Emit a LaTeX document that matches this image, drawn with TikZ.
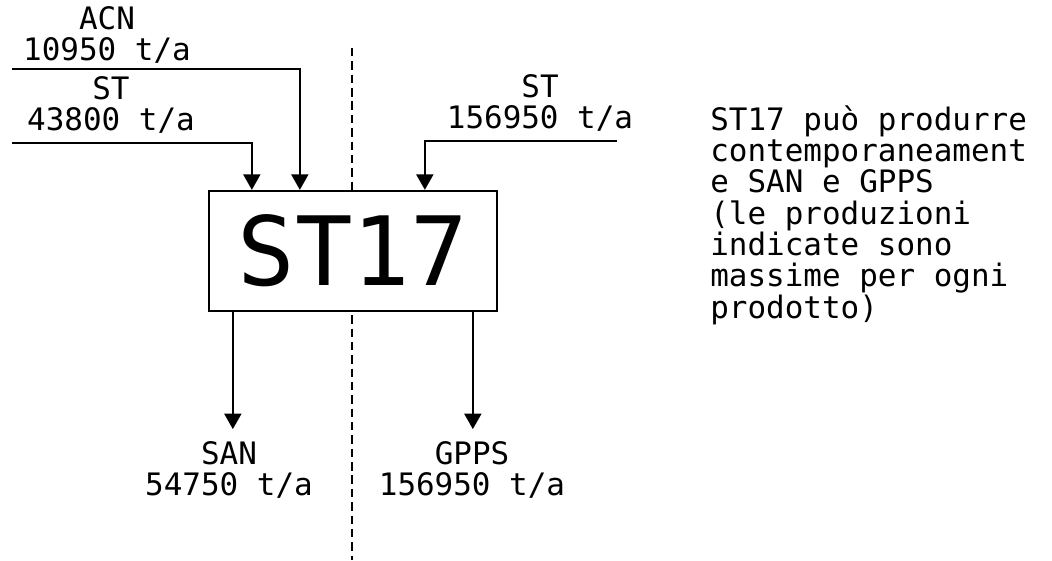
\documentclass[tikz,border=0pt]{standalone}
\usepackage{fontspec}
\setmainfont{DejaVu Sans Mono}
\usetikzlibrary{arrows.meta,calc}

\begin{document}
\begin{tikzpicture}[
    x=0.025cm, y=-0.025cm,
    unitbox/.style={draw, line width=1.6pt, fill=white, minimum width=7.2cm, minimum height=3cm, inner sep=0pt, font=\fontsize{68}{68}\selectfont},
    lbl/.style={align=center, inner sep=0pt, font=\fontsize{22}{21.5}\selectfont},
    note/.style={align=left, inner sep=0pt, anchor=north west, font=\fontsize{22}{22.3}\selectfont},
    flow/.style={-{Triangle[width=12pt, length=11pt]}, line width=1.6pt},
    divider/.style={line width=1.6pt, dash pattern=on 6pt off 3.5pt}
]
\useasboundingbox (0,0) rectangle (1052,560);

% dividing line, behind the unit
\coordinate (divtop) at (352,48);
\coordinate (divbot) at (352,560);
\draw[divider] (divtop) -- (divbot);

\node[unitbox] (st17) at (353,251) {ST17};

% feeds
\node[lbl] (acn) at (107,35) {ACN\\10950 t/a};
\node[lbl] (stleft) at (111,105) {ST\\43800 t/a};
\node[lbl] (stright) at (540,103) {ST\\156950 t/a};

\coordinate (acnsrc) at (12,69);
\coordinate (stlsrc) at (12,143);
\coordinate (strsrc) at (617,141);
\draw[flow] (acnsrc) -| ($(st17.north west)+(92,0)$);
\draw[flow] (stlsrc) -| ($(st17.north west)+(44,0)$);
\draw[flow] (strsrc) -| ($(st17.north west)+(217,0)$);

% products
\coordinate (sanend) at ($(st17.south west)+(25,117)$);
\coordinate (gppsend) at ($(st17.south west)+(265,117)$);
\draw[flow] (st17.south west -| sanend) -- (sanend);
\draw[flow] (st17.south west -| gppsend) -- (gppsend);
\node[lbl] (san) at (229,470) {SAN\\54750 t/a};
\node[lbl] (gpps) at (472,470) {GPPS\\156950 t/a};

\node[note] (remark) at (710,105) {ST17 può produrre\\contemporaneament\\e SAN e GPPS\\(le produzioni\\indicate sono\\massime per ogni\\prodotto)};

\end{tikzpicture}
\end{document}
